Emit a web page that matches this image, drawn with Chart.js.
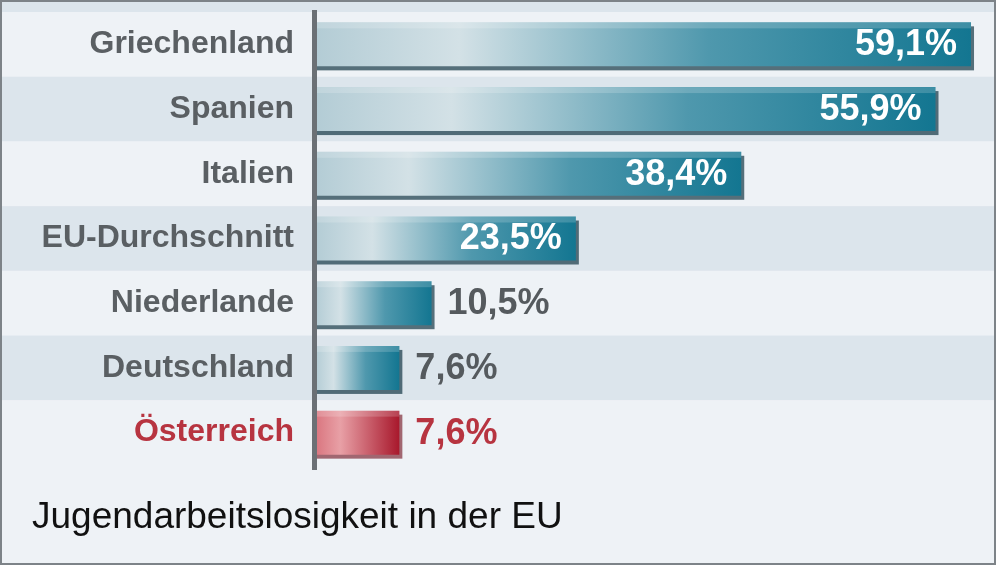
<!DOCTYPE html>
<html><head><meta charset="utf-8">
<script src="https://cdn.jsdelivr.net/npm/chart.js@4"></script>
<style>body{margin:0;background:#eef2f6}canvas{display:block}</style>
</head><body>
<canvas id="c" width="996" height="565"></canvas>
<script>
const categories = ["Griechenland","Spanien","Italien","EU-Durchschnitt","Niederlande","Deutschland","Österreich"];
const values = [59.1,55.9,38.4,23.5,10.5,7.6,7.6];
const valueLabels = ["59,1%","55,9%","38,4%","23,5%","10,5%","7,6%","7,6%"];
const title = "Jugendarbeitslosigkeit in der EU";
const FONT = "'Liberation Sans',Arial,sans-serif";

function barFill(ctx){
  const chart = ctx.chart, ca = chart.chartArea;
  if(!ca) return '#2a8aa3';
  const x0 = chart.scales.x.getPixelForValue(0);
  const x1 = chart.scales.x.getPixelForValue(values[ctx.dataIndex]);
  const g = chart.ctx.createLinearGradient(x0,0,x1,0);
  if(ctx.dataIndex===6){
    g.addColorStop(0,'#d9747e');g.addColorStop(0.3,'#e8a0a6');g.addColorStop(1,'#a8182c');
  } else {
    g.addColorStop(0,'#b3ccd5');g.addColorStop(0.22,'#d3e1e6');g.addColorStop(0.6,'#4f98ad');g.addColorStop(1,'#137691');
  }
  return g;
}

const deco = {
  id:'deco',
  beforeDraw(chart){
    const c = chart.ctx, ca = chart.chartArea;
    c.save();
    c.fillStyle='#eef2f6'; c.fillRect(0,0,chart.width,chart.height);
    const h = (ca.bottom-ca.top)/categories.length;
    categories.forEach((_,i)=>{
      c.fillStyle = i%2 ? '#dce5ec' : '#eef2f6';
      c.fillRect(0, ca.top + i*h, chart.width, h);
    });
    c.fillStyle='#dce5ec'; c.fillRect(0,0,chart.width,ca.top);
    c.restore();
  },
  beforeDatasetsDraw(chart){
    const c = chart.ctx, meta = chart.getDatasetMeta(0);
    c.save();
    meta.data.forEach((b,i)=>{
      c.fillStyle = i===6 ? 'rgba(110,10,25,0.6)' : 'rgba(20,55,70,0.7)';
      c.fillRect(b.base, b.y - b.height/2 + 4, b.x - b.base + 3, b.height);
    });
    c.restore();
  },
  afterDatasetsDraw(chart){
    const c = chart.ctx, ca = chart.chartArea, meta = chart.getDatasetMeta(0);
    c.save();
    meta.data.forEach((b,i)=>{
      c.fillStyle='rgba(255,255,255,0.18)';
      c.fillRect(b.base, b.y-b.height/2, b.x-b.base, 6);
      c.font = "bold 36px "+FONT; c.textBaseline='middle';
      if(values[i] > 20){ c.fillStyle='#ffffff'; c.textAlign='right'; c.fillText(valueLabels[i], b.x-14, b.y+1); }
      else { c.fillStyle = i===6 ? '#b73440' : '#555a5e'; c.textAlign='left'; c.fillText(valueLabels[i], b.x+16, b.y+1); }
      c.fillStyle = i===6 ? '#b73440' : '#5a5f63';
      c.textAlign='right';
      c.font = "bold 32px "+FONT;
      c.fillText(categories[i], 294, b.y);
    });
    c.fillStyle='#6b7075'; c.fillRect(ca.left-3, 10, 5, ca.bottom+5-10);
    c.fillStyle='#111'; c.font = "37px "+FONT; c.textAlign='left'; c.textBaseline='middle';
    c.fillText(title, 32, 518);
    c.strokeStyle='#7d8388'; c.lineWidth=2; c.strokeRect(1,1,chart.width-2,chart.height-2);
    c.restore();
  }
};

new Chart(document.getElementById('c'),{
  type:'bar',
  data:{labels:categories,datasets:[{data:values,backgroundColor:barFill,borderWidth:0,categoryPercentage:1,barPercentage:0.68}]},
  options:{
    indexAxis:'y', responsive:false, animation:false,
    layout:{padding:{left:315,right:5,top:12,bottom:100}},
    plugins:{legend:{display:false},tooltip:{enabled:false}},
    scales:{
      x:{display:false,min:0,max:60.9},
      y:{display:false,grid:{display:false}}
    }
  },
  plugins:[deco]
});
</script>
</body></html>
